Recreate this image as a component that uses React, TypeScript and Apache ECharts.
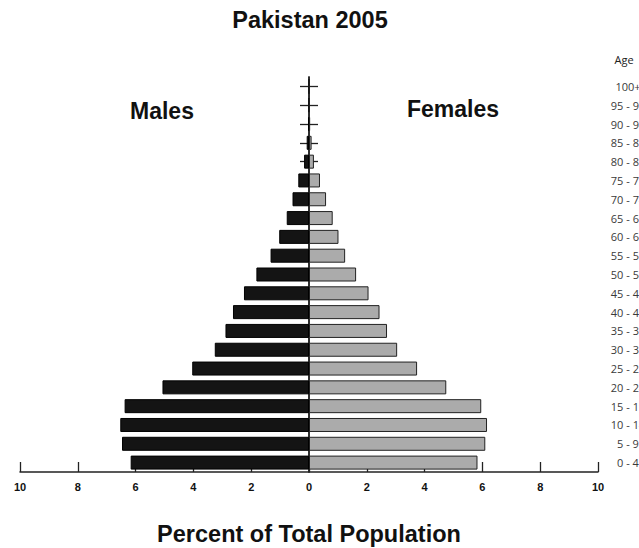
import React, { useEffect, useRef } from "react";
import * as echarts from "echarts";

const ageGroups = [
  "0 - 4", "5 - 9", "10 - 14", "15 - 19", "20 - 24", "25 - 29", "30 - 34",
  "35 - 39", "40 - 44", "45 - 49", "50 - 54", "55 - 59", "60 - 64", "65 - 69",
  "70 - 74", "75 - 79", "80 - 84", "85 - 89", "90 - 94", "95 - 99", "100+",
];
const males = [
  6.17, 6.47, 6.53, 6.38, 5.07, 4.04, 3.26, 2.89, 2.63, 2.25, 1.82, 1.33,
  1.03, 0.77, 0.57, 0.37, 0.17, 0.08, 0.03, 0.01, 0.005,
];
const females = [
  5.83, 6.1, 6.16, 5.96, 4.75, 3.74, 3.05, 2.7, 2.44, 2.06, 1.63, 1.25,
  1.02, 0.82, 0.59, 0.38, 0.17, 0.09, 0.04, 0.01, 0.005,
];
const xTicks = { min: -10, max: 10, interval: 2 };

const SANS = "'Liberation Sans', Arial, sans-serif";

export default function App() {
  const ref = useRef<HTMLDivElement>(null);
  useEffect(() => {
    document.body.style.margin = "0";
    if (!ref.current) return;
    const chart = echarts.init(ref.current, null, { renderer: "svg" });
    const centerAxis = (inside: boolean) => ({
      type: "category",
      data: ageGroups,
      position: "left",
      axisLine: {
        show: true,
        onZero: true,
        onZeroAxisIndex: 0,
        lineStyle: { color: "#222", width: 1.5 },
      },
      axisTick: {
        show: true,
        alignWithLabel: true,
        inside,
        length: 9,
        lineStyle: { color: "#222", width: 1.3 },
      },
      axisLabel: { show: false },
      splitLine: { show: false },
    });
    chart.setOption({
      animation: false,
      backgroundColor: "#fff",
      grid: {
        left: 20,
        right: 41,
        top: 77,
        bottom: 76,
        containLabel: false,
        outerBoundsMode: "none",
      },
      xAxis: {
        type: "value",
        min: xTicks.min,
        max: xTicks.max,
        interval: xTicks.interval,
        axisLine: { show: true, onZero: false, lineStyle: { color: "#222", width: 1.5 } },
        axisTick: { show: true, inside: true, length: 10, lineStyle: { color: "#222", width: 1.3 } },
        splitLine: { show: false },
        axisLabel: {
          formatter: (v: number) => String(Math.abs(v)),
          fontFamily: SANS,
          fontWeight: "bold",
          fontSize: 11,
          color: "#111",
          margin: 9,
        },
      },
      yAxis: [
        {
          type: "category",
          data: ageGroups,
          position: "right",
          axisLine: { show: false, onZero: false },
          axisTick: { show: false },
          splitLine: { show: false },
          axisLabel: {
            align: "center",
            margin: 30,
            fontFamily: "'Open Sans', 'DejaVu Sans', sans-serif",
            fontSize: 11,
            color: "#3a3a3a",
          },
        },
        centerAxis(false),
        centerAxis(true),
      ],
      series: [
        {
          name: "Males",
          type: "bar",
          stack: "pop",
          yAxisIndex: 0,
          barWidth: 14,
          data: males.map((v) => -v),
          itemStyle: { color: "#141414", borderColor: "#000", borderWidth: 1 },
          z: 3,
        },
        {
          name: "Females",
          type: "bar",
          stack: "pop",
          yAxisIndex: 0,
          barWidth: 14,
          data: females,
          itemStyle: { color: "#ababab", borderColor: "#222", borderWidth: 1 },
          z: 3,
        },
      ],
      graphic: [
        {
          type: "text",
          x: 310,
          y: 20,
          style: {
            text: "Pakistan 2005",
            font: `bold 23.5px ${SANS}`,
            fill: "#111",
            align: "center",
            verticalAlign: "middle",
          },
        },
        {
          type: "text",
          x: 130,
          y: 99,
          style: { text: "Males", font: `bold 23px ${SANS}`, fill: "#111" },
        },
        {
          type: "text",
          x: 407,
          y: 97,
          style: { text: "Females", font: `bold 23px ${SANS}`, fill: "#111" },
        },
        {
          type: "text",
          x: 624,
          y: 59,
          style: {
            text: "Age",
            font: `11px 'Open Sans', sans-serif`,
            fill: "#222",
            align: "center",
            verticalAlign: "middle",
          },
        },
        {
          type: "text",
          x: 309,
          y: 534,
          style: {
            text: "Percent of Total Population",
            font: `bold 23.5px ${SANS}`,
            fill: "#111",
            align: "center",
            verticalAlign: "middle",
          },
        },
      ],
    });
    return () => chart.dispose();
  }, []);
  return <div ref={ref} style={{ width: 639, height: 548 }} />;
}
